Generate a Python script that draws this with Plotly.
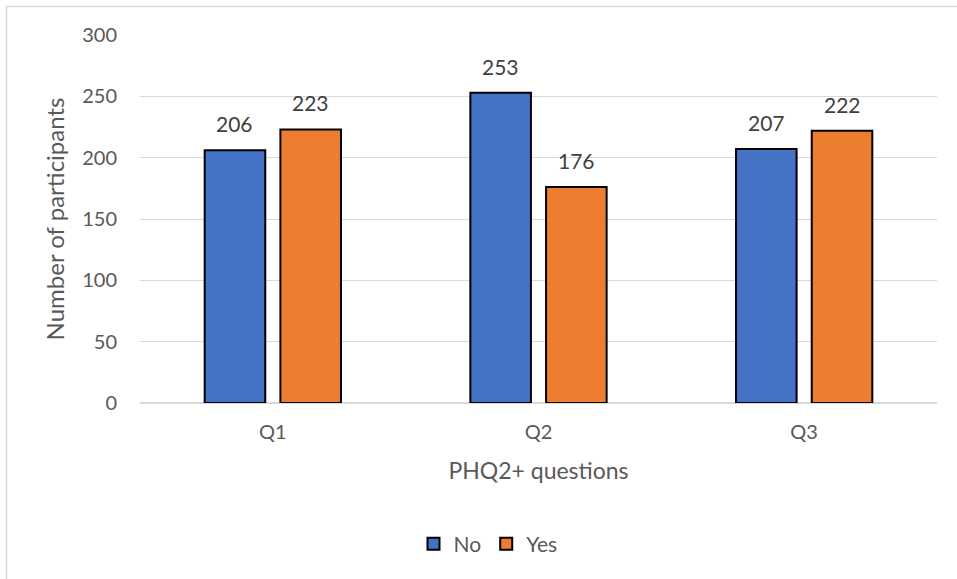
import plotly.graph_objects as go

# PHQ2+ responses per question
questions = ["Q1", "Q2", "Q3"]
no_counts = [206, 253, 207]
yes_counts = [223, 176, 222]
y_ticks = [0, 50, 100, 150, 200, 250, 300]

FONT = "Lato, Open Sans, sans-serif"
GREY = "#595959"

W, H = 957, 579
L, R, T, B = 140, 20, 35, 176
pw, ph = W - L - R, H - T - B
BARGAP, GROUPGAP = 0.43, 0.2
slot_px = pw / len(questions) * (1 - BARGAP) / 2


def px_x(p):
    return (p - L) / pw


def px_y(p):
    return (H - B - p) / ph


fig = go.Figure()
series = [("No", no_counts, "#4472C4", -0.5), ("Yes", yes_counts, "#ED7D31", 0.5)]
for name, vals, color, side in series:
    fig.add_trace(go.Bar(
        name=name, x=questions, y=vals,
        marker=dict(color=color, line=dict(color="black", width=2)),
    ))
    # value labels above each bar
    for q, v in zip(questions, vals):
        fig.add_annotation(
            x=q, y=v, text=str(v), showarrow=False,
            xshift=side * slot_px, yshift=12, yanchor="bottom",
            font=dict(size=21, color="#404040", family=FONT),
        )

fig.update_layout(
    width=W, height=H,
    margin=dict(l=L, r=R, t=T, b=B, pad=0),
    paper_bgcolor="white", plot_bgcolor="white",
    barmode="group", bargap=BARGAP, bargroupgap=GROUPGAP,
    font=dict(family=FONT, size=21, color=GREY),
    showlegend=True,
    legend=dict(
        orientation="h", x=px_x(488), xanchor="center",
        y=px_y(544), yanchor="middle",
        font=dict(size=21, color=GREY, family=FONT),
        itemwidth=30, traceorder="normal",
    ),
    xaxis=dict(
        title=dict(text="PHQ2+ questions", font=dict(size=23, color=GREY), standoff=20),
        tickfont=dict(size=20, color=GREY), showgrid=False,
        showline=False, ticks="", ticklabelstandoff=15,
    ),
    yaxis=dict(
        title=dict(text="Number of participants", font=dict(size=24, color=GREY), standoff=10),
        range=[0, 300], tickvals=y_ticks, tickfont=dict(size=20, color=GREY),
        showgrid=True, gridcolor="#d9d9d9", gridwidth=1,
        zeroline=True, zerolinecolor="#d9d9d9", zerolinewidth=1.5,
        showline=False, ticks="", ticklabelstandoff=22,
    ),
    shapes=[dict(
        type="rect", xref="paper", yref="paper",
        x0=px_x(6.5), x1=px_x(975), y0=px_y(600), y1=px_y(6.5),
        line=dict(color="#d9d9d9", width=1.5), fillcolor="rgba(0,0,0,0)",
        layer="below",
    )],
)

fig.write_html("out.html")
